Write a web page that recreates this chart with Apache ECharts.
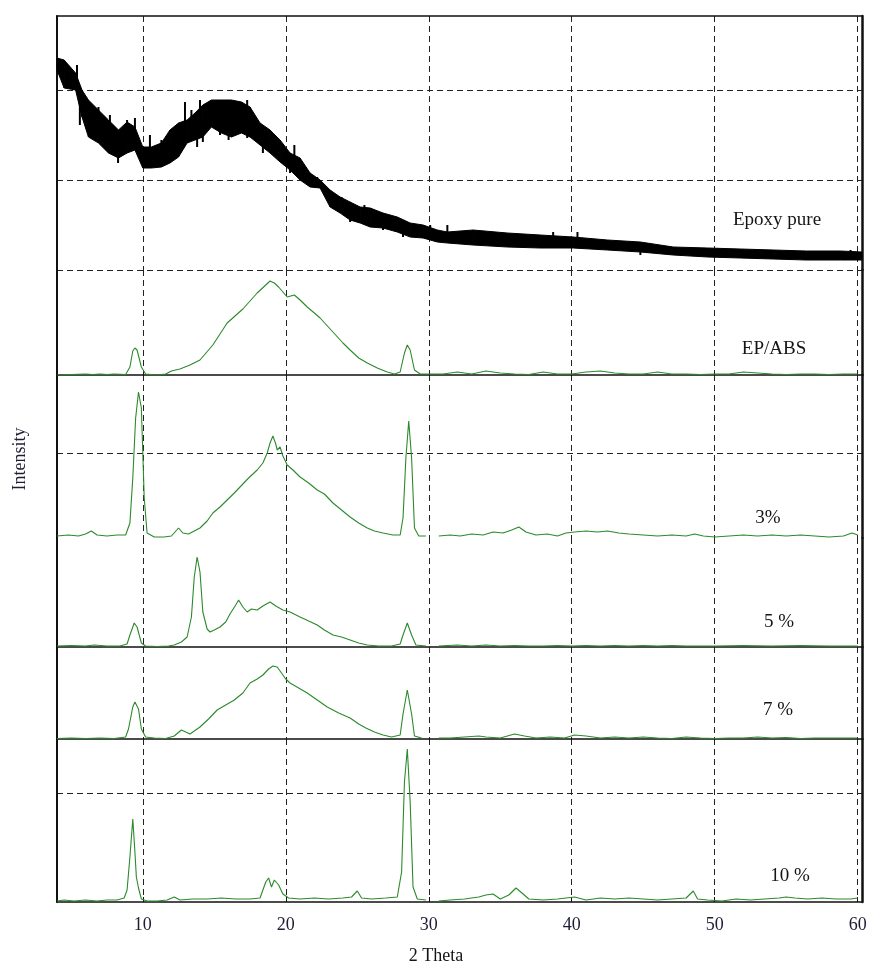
<!DOCTYPE html>
<html>
<head>
<meta charset="utf-8">
<title>XRD - Epoxy / ABS</title>
<script src="https://cdn.jsdelivr.net/npm/echarts@6.0.0/dist/echarts.min.js"></script>
<style>
    html, body { margin: 0; padding: 0; background: #fff; }
    #chart { width: 877px; height: 964px; }
</style>
</head>
<body>
<div id="chart"></div>
<script>
// 2 Theta ticks
var thetaTicks = [10, 20, 30, 40, 50, 60];

// Epoxy pure: noisy trace, read as lower and upper edge of the band
var epoxyTheta = [4.0, 4.5, 5.3, 5.75, 6.2, 6.9, 7.6, 8.3, 8.9, 9.45,
    10.0, 10.6, 11.3, 11.9, 12.5, 13.1, 13.65, 14.2, 14.8, 15.5,
    16.2, 16.9, 17.5, 18.2, 18.9, 19.6, 20.3, 21.0, 21.7, 22.4,
    23.1, 23.8, 24.5, 25.2, 25.9, 26.8, 27.8, 28.7, 29.6, 30.6,
    31.3, 33.1, 35.5, 37.8, 40.1, 42.5, 44.8, 47.1, 49.5, 51.8,
    54.1, 56.4, 58.8, 60.3];
var epoxyHigh = [212, 210, 197, 180, 170, 160, 150, 140, 148, 143,
    123, 123, 127, 140, 147, 150, 157, 165, 170, 170,
    170, 168, 163, 147, 140, 130, 117, 112, 97, 90,
    80, 73, 68, 63, 62, 57, 53, 47, 45, 40,
    38, 40, 37, 35, 33, 30, 28, 23, 22, 21,
    20, 19, 19, 18];
var epoxyLow = [200, 182, 180, 153, 133, 127, 117, 112, 117, 120,
    102, 102, 103, 107, 113, 127, 130, 133, 143, 137,
    133, 137, 133, 125, 117, 108, 100, 90, 83, 82,
    63, 57, 50, 47, 43, 42, 38, 33, 32, 28,
    27, 25, 23, 22, 22, 20, 18, 15, 13, 12,
    11, 10, 10, 10];

// Epoxy pure: single noise spikes sticking out of the band
var spikeTheta = [5.4, 5.6, 6.9, 7.7, 8.27, 8.9, 9.45, 10.5, 11.3, 12.95, 13.4, 13.8, 14.0, 14.2,
    15.4, 16.0, 17.3, 18.4, 20.3, 20.6, 22.2, 23.9, 24.5, 25.5, 26.8, 28.2, 30.1, 31.3, 38.7,
    40.4, 44.8, 59.5];
var spikeLow = [180, 145, 140, 130, 107, 125, 130, 102, 110, 140, 140, 123, 150, 128,
    135, 130, 132, 117, 97, 110, 85, 60, 48, 52, 40, 33, 35, 32, 26,
    26, 15, 12];
var spikeHigh = [205, 175, 163, 155, 135, 150, 152, 135, 130, 168, 160, 150, 170, 150,
    160, 160, 170, 145, 115, 125, 93, 73, 62, 65, 55, 45, 45, 45, 38,
    38, 25, 20];

// EP/ABS  [2theta, intensity]
var epAbs = [[4.0, 0], [5.0, 0.5], [6.0, 1], [6.5, 0.5], [7.0, 1], [7.5, 0.5], [8.0, 1], [8.8, 0.5],
    [9.1, 8], [9.3, 24], [9.45, 27], [9.6, 25], [9.9, 8], [10.2, 1], [11.0, 0], [11.6, 1],
    [12.0, 4], [12.6, 6], [13.3, 10], [14.0, 15], [14.9, 30], [15.9, 52], [17.0, 66], [18.0, 82],
    [18.6, 90], [18.9, 94], [19.2, 92], [19.5, 88], [19.8, 83], [20.1, 78], [20.6, 80], [21.0, 75],
    [21.5, 68], [22.0, 62], [22.4, 57], [23.3, 43], [24.0, 32], [24.5, 25], [25.1, 17], [25.7, 12],
    [26.4, 7], [27.1, 3], [27.6, 1], [28.0, 3], [28.3, 22], [28.5, 30], [28.7, 25], [29.0, 5],
    [29.4, 1], [30.0, 1], [31, 1], [32, 3], [33, 1], [34, 4], [35, 2], [36, 1], [37, 0.5],
    [38, 3], [39, 1], [40, 1], [41, 3], [42, 4], [43, 2], [44, 1], [45, 1], [46, 3], [47, 1],
    [48, 1], [49, 0.5], [50, 1], [51, 1], [52, 3], [53, 2], [54, 1], [55, 0.5], [56, 1], [57, 1],
    [58, 0.5], [59, 1], [60, 1]];

// 3 %
var ep3 = [[4.0, 2], [4.8, 3], [5.5, 2], [6.0, 4], [6.4, 7], [6.8, 3], [7.5, 2], [8.2, 3], [8.8, 3],
    [9.1, 15], [9.3, 60], [9.5, 120], [9.7, 146], [9.9, 130], [10.1, 40], [10.3, 5], [10.8, 1],
    [11.5, 1], [12.0, 2], [12.5, 10], [12.8, 5], [13.2, 4], [13.6, 7], [14.0, 10], [14.5, 17],
    [14.9, 25], [15.4, 31], [15.9, 38], [16.4, 45], [16.8, 51], [17.4, 60], [18.0, 68], [18.4, 75],
    [18.7, 85], [18.9, 95], [19.1, 102], [19.3, 94], [19.4, 88], [19.6, 91], [19.8, 82], [20.1, 73],
    [20.5, 68], [21.0, 61], [21.6, 55], [22.2, 48], [22.7, 44], [23.3, 35], [23.9, 28], [24.5, 21],
    [25.1, 15], [25.7, 10], [26.2, 7], [26.8, 5], [27.5, 3], [28.0, 3], [28.2, 20], [28.4, 80],
    [28.6, 117], [28.8, 80], [29.0, 10], [29.3, 2], [29.8, 2], [30.0, null], [30.4, null],
    [30.7, 2], [31.5, 3], [32.2, 2], [33, 4], [33.8, 3], [34.5, 6], [35.2, 5], [35.8, 8], [36.3, 11],
    [36.8, 6], [37.5, 3], [38.3, 4], [39, 2], [39.6, 5], [40.2, 6], [41, 7], [41.8, 6], [42.5, 7],
    [43.3, 5], [44, 4], [45, 3], [46, 2], [47, 3], [48, 2], [48.6, 4], [49.2, 2], [50, 1], [51, 2],
    [52, 3], [53, 2], [54, 3], [55, 2], [56, 3], [57, 2], [58, 1], [59, 2], [59.6, 5], [60, 3]];

// 5 %
var ep5 = [[4, 1], [5, 1.5], [6, 1], [6.6, 2], [7.5, 1], [8.4, 1], [8.9, 3], [9.1, 12], [9.4, 24],
    [9.6, 20], [9.9, 4], [10.2, 1], [11, 0.5], [11.8, 1], [12.2, 2], [12.7, 5], [13.1, 10],
    [13.4, 30], [13.6, 70], [13.8, 90], [14.0, 75], [14.2, 35], [14.5, 18], [14.7, 15], [15.0, 17],
    [15.4, 20], [15.8, 25], [16.1, 33], [16.5, 42], [16.7, 47], [17.0, 40], [17.3, 35], [17.6, 38],
    [18.0, 37], [18.4, 41], [18.9, 45], [19.3, 41], [19.8, 37], [20.3, 35], [21.0, 30], [21.6, 26],
    [22.2, 22], [22.7, 17], [23.3, 12], [23.9, 10], [24.5, 7], [25.1, 4], [25.7, 2], [26.5, 1],
    [27.4, 1], [28.0, 3], [28.2, 12], [28.5, 24], [28.8, 12], [29.1, 2], [29.8, 1], [30.0, null],
    [30.4, null], [30.7, 1], [32, 2], [33, 1], [34, 2], [35, 1], [36, 1.5], [37, 1], [38, 1],
    [39, 1.5], [40, 1], [41, 1.5], [42, 1], [43, 1.5], [44, 1], [45, 1.5], [46, 1], [47, 1.5],
    [48, 1], [49, 1], [50, 1], [52, 1.5], [54, 1], [56, 1.5], [58, 1], [60, 1]];

// 7 %
var ep7 = [[4, 0.5], [5, 1], [6, 0.5], [7, 1], [8, 0.5], [8.8, 2], [9.0, 10], [9.3, 32], [9.45, 37],
    [9.7, 30], [9.9, 10], [10.2, 2], [10.8, 1], [11.6, 0.5], [12.2, 3], [12.7, 9], [13.3, 5],
    [14.0, 12], [14.6, 20], [15.2, 29], [15.8, 34], [16.4, 39], [17.0, 46], [17.5, 56], [18.0, 60],
    [18.4, 64], [18.8, 70], [19.1, 73], [19.4, 72], [19.7, 66], [20.0, 60], [20.3, 56], [20.9, 51],
    [21.5, 46], [22.2, 39], [22.9, 32], [23.7, 26], [24.5, 21], [25.1, 15], [25.6, 11], [26.2, 7],
    [26.8, 4], [27.4, 2], [28.0, 4], [28.2, 25], [28.5, 49], [28.8, 25], [29.0, 3], [29.5, 1],
    [30.0, null], [30.4, null], [30.7, 1], [31.5, 1], [32.5, 2], [33.5, 3], [34, 2], [35, 1],
    [36, 5], [36.7, 3], [37.5, 1], [38.5, 2], [39.5, 1], [40.2, 4], [41, 3], [42, 1], [43, 2],
    [44, 1], [45, 2], [46, 1], [47, 0.5], [48, 2], [49, 1], [50, 0.5], [51, 1], [52, 1], [53, 2],
    [54, 1], [55, 1.5], [56, 0.5], [57, 1], [58, 1], [59, 1], [60, 1]];

// 10 %
var ep10 = [[4, 1], [4.5, 2], [5.2, 1], [6.0, 2], [6.8, 1], [7.5, 2], [8.2, 2], [8.7, 4], [8.9, 12],
    [9.1, 45], [9.3, 83], [9.45, 50], [9.55, 25], [9.7, 14], [9.9, 3], [10.3, 1], [11.0, 1],
    [11.7, 2], [12.2, 5], [12.6, 2], [13.5, 3], [14.5, 3], [15.5, 4], [16.5, 3], [17.5, 3],
    [18.2, 4], [18.6, 20], [18.8, 24], [19.0, 15], [19.2, 22], [19.5, 17], [19.8, 8], [20.2, 4],
    [21.0, 3], [22.0, 4], [23.0, 3], [24.0, 4], [24.6, 5], [25.0, 11], [25.3, 4], [26, 3], [27, 4],
    [27.8, 5], [28.1, 30], [28.3, 120], [28.5, 153], [28.7, 100], [28.9, 15], [29.2, 3], [29.8, 2],
    [30.0, null], [30.4, null], [30.7, 1], [31.5, 2], [32.5, 3], [33.5, 5], [34.0, 7], [34.5, 8],
    [35.0, 3], [35.6, 7], [36.1, 14], [36.6, 8], [37.0, 3], [38, 2], [39, 3], [40.2, 5], [41, 2],
    [42, 4], [43, 3], [44, 4], [45, 3], [46, 2], [47, 3], [48, 4], [48.5, 11], [48.8, 3], [49.5, 2],
    [50.5, 1], [51.5, 3], [52.5, 2], [53.5, 3], [54.5, 4], [55.0, 5], [55.6, 4], [56.5, 3],
    [57.5, 4], [58.5, 3], [59.5, 3], [60, 4]];

var sampleNames = ['Epoxy pure', 'EP/ABS', '3%', '5 %', '7 %', '10 %'];

// layout of the six stacked panels
var panels = [
    {top: 16, height: 254, max: 254, split: 90, minLine: true, baseLine: false, label: [777, 220]},
    {top: 270, height: 105, max: 105, split: 0, minLine: false, baseLine: true, label: [774, 349]},
    {top: 375, height: 163, max: 163, split: 85, minLine: false, baseLine: false, label: [768, 518]},
    {top: 538, height: 109, max: 109, split: 0, minLine: false, baseLine: true, label: [779, 622]},
    {top: 647, height: 92, max: 92, split: 0, minLine: false, baseLine: true, label: [778, 710]},
    {top: 739, height: 163, max: 163, split: 109, minLine: false, baseLine: true, label: [790, 876]}
];

var greenData = [epAbs, ep3, ep5, ep7, ep10];
var serif = '"Liberation Serif", "Times New Roman", serif';
var green = '#2b8a2b';
var dashed = {show: true, lineStyle: {color: '#222', width: 1, type: [6, 4]}};

var grids = [], xAxes = [], yAxes = [], series = [], graphics = [];

panels.forEach(function (p, i) {
    grids.push({left: 57, right: 15, top: p.top, height: p.height});
    var last = i === panels.length - 1;
    xAxes.push({
        type: 'value', gridIndex: i, min: 4, max: 60.3,
        axisLine: {show: p.baseLine, onZero: false, lineStyle: {color: '#111', width: 1.5}},
        axisTick: {show: last, inside: true, length: 5, customValues: thetaTicks, lineStyle: {color: '#111'}},
        axisLabel: {show: last, customValues: thetaTicks, margin: 14, fontFamily: serif, fontSize: 18, color: '#1d1d33'},
        splitLine: dashed
    });
    yAxes.push({
        type: 'value', gridIndex: i, min: 0, max: p.max,
        interval: p.split || p.max,
        axisLine: {show: true, lineStyle: {color: '#111', width: 2}},
        axisTick: {show: false},
        axisLabel: {show: false},
        splitLine: {
            show: p.split > 0, showMinLine: p.minLine, showMaxLine: false,
            lineStyle: {color: '#222', width: 1, type: [6, 4]}
        }
    });
    graphics.push({
        type: 'text', x: p.label[0], y: p.label[1], z: 10,
        style: {text: sampleNames[i], font: '19px ' + serif, fill: '#151515', align: 'center', verticalAlign: 'middle'}
    });
});

// frame: top edge of the first panel and right edge of every panel
xAxes.push({
    type: 'value', gridIndex: 0, position: 'top', min: 4, max: 60.3,
    axisLine: {show: true, onZero: false, lineStyle: {color: '#111', width: 1.5}},
    axisTick: {show: false}, axisLabel: {show: false}, splitLine: {show: false}
});
panels.forEach(function (p, i) {
    yAxes.push({
        type: 'value', gridIndex: i, position: 'right', min: 0, max: 1,
        axisLine: {show: true, lineStyle: {color: '#111', width: 2.5}},
        axisTick: {show: false}, axisLabel: {show: false}, splitLine: {show: false}
    });
});

// Epoxy pure: filled band between the lower and upper edge
series.push({
    type: 'custom', xAxisIndex: 0, yAxisIndex: 0,
    data: epoxyTheta.map(function (t, k) { return [t, epoxyLow[k], epoxyHigh[k]]; }),
    encode: {x: 0, y: [1, 2]},
    renderItem: function (params, api) {
        var k = params.dataIndexInside;
        if (k >= params.dataInsideLength - 1) return;
        var pts = [
            api.coord([api.value(0, k), api.value(2, k)]),
            api.coord([api.value(0, k + 1), api.value(2, k + 1)]),
            api.coord([api.value(0, k + 1), api.value(1, k + 1)]),
            api.coord([api.value(0, k), api.value(1, k)])
        ];
        return {type: 'polygon', shape: {points: pts}, style: {fill: '#000', stroke: '#000', lineWidth: 1}};
    }
});
// noise spikes
series.push({
    type: 'custom', xAxisIndex: 0, yAxisIndex: 0,
    data: spikeTheta.map(function (t, k) { return [t, spikeLow[k], spikeHigh[k]]; }),
    encode: {x: 0, y: [1, 2]},
    renderItem: function (params, api) {
        var a = api.coord([api.value(0), api.value(1)]);
        var b = api.coord([api.value(0), api.value(2)]);
        return {type: 'line', shape: {x1: a[0], y1: a[1], x2: b[0], y2: b[1]}, style: {stroke: '#000', lineWidth: 2}};
    }
});

greenData.forEach(function (d, k) {
    series.push({
        type: 'line', xAxisIndex: k + 1, yAxisIndex: k + 1, symbol: 'none',
        connectNulls: false,
        data: d.map(function (pt) { return [pt[0], pt[1] === null ? '-' : pt[1]]; }),
        lineStyle: {width: 1.1, color: green}
    });
});

graphics.push({
    type: 'text', x: 436, y: 956,
    style: {text: '2 Theta', font: '18px ' + serif, fill: '#151515', align: 'center', verticalAlign: 'middle'}
});
graphics.push({
    type: 'text', x: 20, y: 459, rotation: Math.PI / 2,
    style: {text: 'Intensity', font: '18px ' + serif, fill: '#1d1d33', align: 'center', verticalAlign: 'middle'}
});

var chart = echarts.init(document.getElementById('chart'));
chart.setOption({
    animation: false,
    backgroundColor: '#fff',
    grid: grids,
    xAxis: xAxes,
    yAxis: yAxes,
    series: series,
    graphic: graphics
});
</script>
</body>
</html>
